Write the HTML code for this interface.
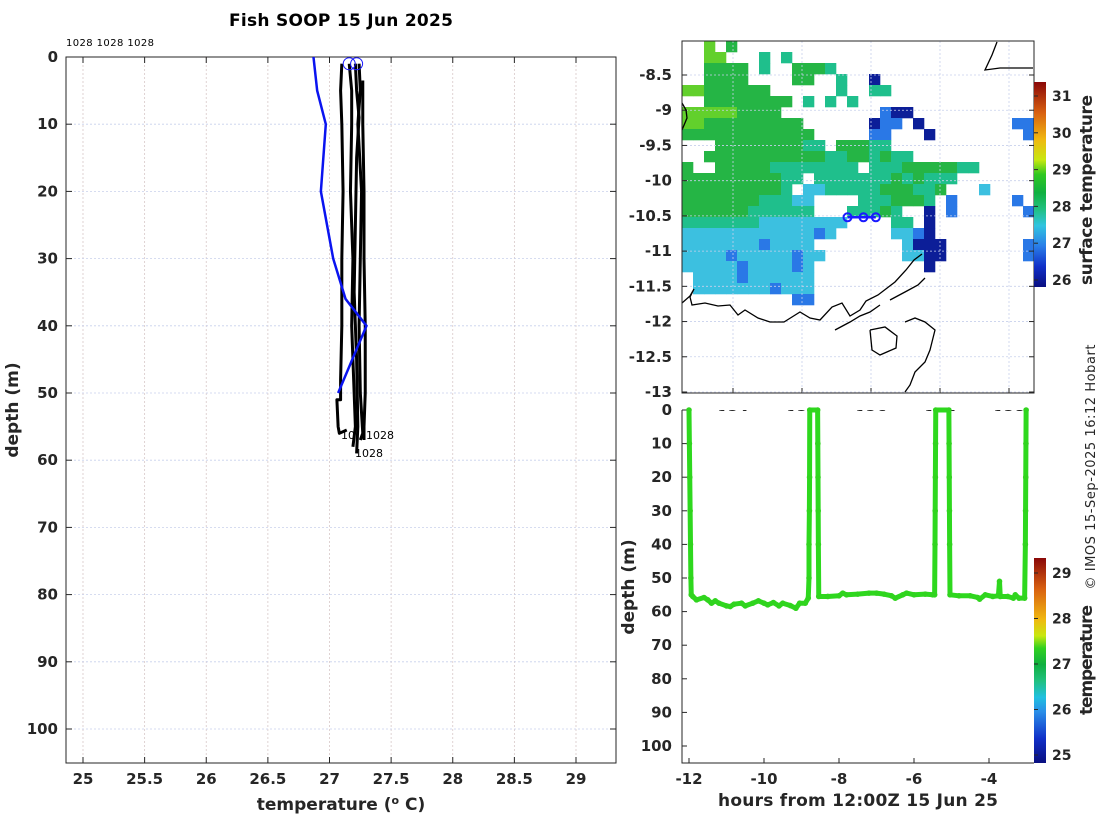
<!DOCTYPE html>
<html><head><meta charset="utf-8">
<style>
html,body{margin:0;padding:0;background:#fff;}
svg{display:block;font-family:"DejaVu Sans","Liberation Sans",sans-serif;}
.tk{font-size:15px;font-weight:bold;fill:#262626;}
.lb{font-size:17px;font-weight:bold;fill:#262626;}
</style></head>
<body>
<svg id="fig" width="1100" height="820" viewBox="0 0 1100 820" xmlns="http://www.w3.org/2000/svg">
<defs>
<linearGradient id="cmapA" x1="0" y1="1" x2="0" y2="0">
<stop offset="0" stop-color="#0a0f80"/><stop offset="0.1" stop-color="#1030c8"/><stop offset="0.2" stop-color="#2a7ee8"/>
<stop offset="0.3" stop-color="#30c4e0"/><stop offset="0.38" stop-color="#20c080"/><stop offset="0.46" stop-color="#10b040"/>
<stop offset="0.55" stop-color="#30c820"/><stop offset="0.62" stop-color="#c8e810"/><stop offset="0.72" stop-color="#f0b810"/>
<stop offset="0.85" stop-color="#d86010"/><stop offset="1" stop-color="#8a0808"/></linearGradient>
<linearGradient id="cmapB" x1="0" y1="1" x2="0" y2="0">
<stop offset="0" stop-color="#0a0f80"/><stop offset="0.12" stop-color="#1030c8"/><stop offset="0.25" stop-color="#2a8ee8"/>
<stop offset="0.32" stop-color="#20c0e0"/><stop offset="0.4" stop-color="#20c080"/><stop offset="0.48" stop-color="#10b040"/>
<stop offset="0.56" stop-color="#30d020"/><stop offset="0.62" stop-color="#c8e810"/><stop offset="0.7" stop-color="#f0b810"/>
<stop offset="0.85" stop-color="#d86010"/><stop offset="1" stop-color="#8a0808"/></linearGradient>
</defs>
</svg>
<script>
// ---------- data ----------
const blueTemp  = [26.87, 26.90, 26.97, 26.93, 27.03, 27.13, 27.30, 27.07];
const blueDepth = [0, 5, 10, 20, 30, 36, 40, 50];
const profA_T = [27.10,27.09,27.10,27.11,27.10,27.10,27.09,27.09,27.06,27.07,27.08,27.14];
const profA_D = [1,5,10,20,30,40,48,51,51,55,56,55.5];
const profB_T = [27.16,27.18,27.18,27.17,27.19,27.18,27.20,27.21,27.19];
const profB_D = [1,5,10,20,30,40,50,55,58];
const profC_T = [27.21,27.22,27.24,27.22,27.21,27.20,27.22,27.23,27.22];
const profC_D = [1,5,9,15,25,35,45,55,59];
const profD_T = [27.24,27.25,27.23,27.26,27.25,27.24,27.25,27.27,27.25];
const profD_D = [1,5,10,20,30,40,50,56,57];
const profE_T = [27.27,27.27,27.28,27.28,27.29,27.29,27.28,27.28];
const profE_D = [3.5,10,20,30,40,50,55,57];
const xTicksL = [25,25.5,26,26.5,27,27.5,28,28.5,29];
const yTicksL = [0,10,20,30,40,50,60,70,80,90,100];

const latTicks = [-8.5,-9,-9.5,-10,-10.5,-11,-11.5,-12,-12.5,-13];
const lonTicks = [124,125,126,127,128];
const trackLon = [125.66,125.89,126.07];
const trackLat = [-10.52,-10.52,-10.52];
const sstRows = [
"..G.g...........................",
"..GG...t.t......................",
"..gggg.t..gggt..................",
"..gggg....gg..t..d..............",
"GGgggggg......t..tt.............",
"..gggggggg.t.t.t................",
"GGGGGgggg.........bdd...........",
"GGggggggggg......dbb.d........bb",
"gggggggggggg.....bb...d........b",
"...ggggggggtt.gggtt.............",
"..gggggggggggttggtgtt...........",
"g..gggggtttttttt.tttgggggtt.....",
"gggggggggtt.tttttttgtgttt.......",
"gggggggggt.cctttttgggttg...c....",
"gggggggtttcc....tttgggt.b.....b.",
"ggggggtttttt...tttgt..d.b......b",
"tttttttcccccccc....tt.d.........",
"ccccccccccccbc.....ccbd.........",
"cccccccbcccc........cddd.......b",
"ccccbcccccbcc.......ccdd.......b",
"cccccbccccbc..........d.........",
".ccccbcccccc....................",
".cccccccbccc....................",
"..........bb...................."
];
const sstColors = {g:"#25b545",G:"#62d02c",t:"#1fbf8c",c:"#3cc0e0",b:"#2a78e6",d:"#0c1e98"};

const cbTicksA = [26,27,28,29,30,31];
const cbTicksB = [25,26,27,28,29];
const xTicksB = [-12,-10,-8,-6,-4];
const yTicksB = [0,10,20,30,40,50,60,70,80,90,100];
const hrs = [-12.0,-11.99,-11.98,-11.97,-11.96,-11.95,-11.94,-11.9,-11.8,-11.6,-11.5,-11.4,-11.3,-11.2,-11.0,-10.9,-10.8,-10.6,-10.5,-10.3,-10.15,-10.0,-9.9,-9.75,-9.6,-9.5,-9.3,-9.15,-9.05,-8.9,-8.82,-8.8,-8.8,-8.79,-8.785,-8.78,
 -8.57,-8.565,-8.56,-8.555,-8.55,-8.54,-8.3,-8.0,-7.9,-7.8,-7.5,-7.2,-7.0,-6.8,-6.6,-6.5,-6.3,-6.2,-6.0,-5.7,-5.5,-5.45,-5.44,-5.435,-5.43,-5.425,-5.42,
 -5.07,-5.065,-5.06,-5.055,-5.05,-5.04,-4.8,-4.5,-4.3,-4.25,-4.1,-3.9,-3.75,-3.72,-3.70,-3.5,-3.35,-3.3,-3.2,-3.05,-3.03,-3.025,-3.02,-3.015,-3.01];
const dep = [0,10,20,30,40,50,55,55.5,56.5,55.8,56.5,57.5,56.8,57.5,58.3,58.5,57.8,57.5,58.3,57.5,56.8,57.5,58,57.3,58.3,57.5,58.2,59,57.5,57.5,56,50,40,30,20,0,
 0,10,20,30,40,55.5,55.5,55.3,54.5,55,54.8,54.5,54.5,54.8,55.3,56,55,54.5,55,54.8,55,55,40,30,20,10,0,
 0,10,20,30,40,55,55.3,55.3,55.8,56.3,55,55.5,55.3,51,55.5,55.5,56,55,56,56,40,30,20,10,0];

// ---------- helpers ----------
const svg = document.getElementById('fig');
const NS = "http://www.w3.org/2000/svg";
function mk(tag, attrs, parent){const e=document.createElementNS(NS,tag);for(const k in attrs)e.setAttribute(k,attrs[k]);(parent||svg).appendChild(e);return e;}
function txt(s, attrs, parent){const e=mk('text',attrs,parent);e.textContent=s;return e;}
function lin(d0,d1,r0,r1){return v=>r0+(v-d0)*(r1-r0)/(d1-d0);}

// ---------- left profile panel ----------
const L={x0:66,x1:616,y0:57,y1:763};
const lx=lin(25,29,83,576), ly=lin(0,100,57,729);
const gL=mk('g',{});


xTicksL.forEach(v=>{const x=lx(v);
 mk('line',{x1:x,y1:L.y0,x2:x,y2:L.y1,stroke:'#d8c8c8','stroke-dasharray':'2,2','stroke-width':0.8},gL);
 mk('line',{x1:x,y1:L.y1,x2:x,y2:L.y1-6,stroke:'#262626'},gL);
 mk('line',{x1:x,y1:L.y0,x2:x,y2:L.y0+6,stroke:'#262626'},gL);
 const t=txt(String(v),{x:x,y:784,'text-anchor':'middle',class:'tk'},gL);
 });
yTicksL.forEach(v=>{const y=ly(v);
 mk('line',{x1:L.x0,y1:y,x2:L.x1,y2:y,stroke:'#c8d0ec','stroke-dasharray':'2,2','stroke-width':0.8},gL);
 mk('line',{x1:L.x0,y1:y,x2:L.x0+6,y2:y,stroke:'#262626'},gL);
 mk('line',{x1:L.x1,y1:y,x2:L.x1-6,y2:y,stroke:'#262626'},gL);
 const t=txt(String(v),{x:58,y:y+5,'text-anchor':'end',class:'tk'},gL);
 });
mk('rect',{x:L.x0,y:L.y0,width:L.x1-L.x0,height:L.y1-L.y0,fill:'none',stroke:'#262626','stroke-width':1},gL);
[[profA_T,profA_D],[profB_T,profB_D],[profC_T,profC_D],[profD_T,profD_D],[profE_T,profE_D]].forEach(p=>{
 const pl=mk('polyline',{points:p[0].map((t,i)=>lx(t)+','+ly(p[1][i])).join(' '),fill:'none',stroke:'#000','stroke-width':3,'stroke-linejoin':'round'},gL);
 });
const bl=mk('polyline',{points:blueTemp.map((t,i)=>lx(t)+','+ly(blueDepth[i])).join(' '),fill:'none',stroke:'#0a14f0','stroke-width':2.5},gL);

[27.16,27.22].forEach(t=>{const c=mk('circle',{cx:lx(t),cy:ly(1),r:6,fill:'none',stroke:'#1a1aff','stroke-width':1},gL);
 });
txt('1028',{x:366,y:439,'font-size':11,fill:'#000'},gL);
txt('10',{x:341,y:439,'font-size':11,fill:'#000'},gL);
txt('1028',{x:355,y:457,'font-size':11,fill:'#000'},gL);
const ann=txt('1028 1028 1028',{x:66,y:46,'font-size':10,fill:'#000',textLength:88},gL);

const ttl=txt('Fish SOOP 15 Jun 2025',{x:341,y:26,'text-anchor':'middle','font-size':17,'font-weight':'bold',fill:'#000',textLength:224});

const xl=mk('text',{x:341,y:810,'text-anchor':'middle',class:'lb'});
xl.innerHTML='temperature (<tspan dy="-6" font-size="11">o</tspan><tspan dy="6"> C)</tspan>';

const yl=txt('depth (m)',{x:0,y:0,'text-anchor':'middle',class:'lb',transform:'translate(18,410) rotate(-90)'});


// ---------- map panel ----------
const M={x0:682,x1:1034,y0:41,y1:393};
const mx=lin(124,128,733,1009), my=lin(-8.5,-13,75,392);
const gM=mk('g',{});


lonTicks.forEach(v=>{const t=txt(String(v),{x:mx(v),y:421,'text-anchor':'middle',class:'tk'},gM);
 });
const cw=11;
sstRows.forEach((row,r)=>{for(let c=0;c<row.length;c++){const ch=row[c];if(ch==='.')continue;
 const cell=mk('rect',{x:M.x0+c*cw,y:M.y0+r*cw,width:cw+0.3,height:cw+0.3,fill:sstColors[ch]},gM);
 }});
lonTicks.forEach(v=>{const x=mx(v);
 mk('line',{x1:x,y1:M.y0,x2:x,y2:M.y1,stroke:'#c8d0ec','stroke-dasharray':'2,2','stroke-width':0.8},gM);
 mk('line',{x1:x,y1:M.y1,x2:x,y2:M.y1-5,stroke:'#262626'},gM);});
latTicks.forEach(v=>{const y=my(v);
 mk('line',{x1:M.x0,y1:y,x2:M.x1,y2:y,stroke:'#c8d0ec','stroke-dasharray':'2,2','stroke-width':0.8},gM);
 mk('line',{x1:M.x0,y1:y,x2:M.x0+5,y2:y,stroke:'#262626'},gM);
 mk('line',{x1:M.x1,y1:y,x2:M.x1-5,y2:y,stroke:'#262626'},gM);
 const t=txt(String(v),{x:672,y:y+5,'text-anchor':'end',class:'tk'},gM);
 });
const coast=[
 "M997,42 L992,55 L985,70 L1000,68 L1033,68",
 "M682,103 L686,110 L687,118 L682,130",
 "M682,303 L690,296 L694,289 L690,297 L692,305 L705,303 L718,306 L730,305 L738,315 L745,310 L758,318 L770,322 L784,322 L792,317 L800,312 L810,318 L820,320 L832,307 L842,303 L850,316 L860,310 L866,301 L878,295 L895,282 L906,270 L914,260 L922,254",
 "M890,300 L905,292 L918,285 L925,278",
 "M870,330 L885,327 L897,336 L896,348 L880,355 L872,350 L870,330",
 "M905,322 L915,318 L925,322 L935,330 L932,342 L930,350 L925,362 L915,372 L910,385 L905,392",
 "M835,330 L850,322 L860,316 L870,312 L880,305"];
coast.forEach(d=>{const p=mk('path',{d:d,fill:'none',stroke:'#000','stroke-width':1.3},gM);
 });
mk('polyline',{points:trackLon.map((v,i)=>mx(v)+','+my(trackLat[i])).join(' '),fill:'none',stroke:'#1a1aff','stroke-width':2.5},gM);
trackLon.forEach((v,i)=>{const c=mk('circle',{cx:mx(v),cy:my(trackLat[i]),r:4,fill:'none',stroke:'#1a1aff','stroke-width':2},gM);
 });
mk('rect',{x:M.x0,y:M.y0,width:M.x1-M.x0,height:M.y1-M.y0,fill:'none',stroke:'#262626'},gM);
// colorbar A
const cyA=lin(26,31,280,96);
const cbA=mk('rect',{x:1034,y:82,width:12,height:205,fill:'url(#cmapA)'});

cbTicksA.forEach(v=>{const y=cyA(v);mk('line',{x1:1034,y1:y,x2:1038,y2:y,stroke:'#262626'});
 txt(String(v),{x:1052,y:y+5,'font-size':14,'font-weight':'bold',fill:'#262626'});});
const cbtA=txt('surface temperature',{x:0,y:0,'text-anchor':'middle',class:'lb',transform:'translate(1092,190) rotate(-90)',textLength:190});


// ---------- time-depth panel ----------
mk('rect',{x:620,y:411,width:460,height:409,fill:'#fff'});
const B={x0:682,x1:1034,y0:410,y1:763};
const bx=lin(-12,-4,689,989), by=lin(0,100,410,746);
const gB=mk('g',{});


xTicksB.forEach(v=>{const x=bx(v);
 mk('line',{x1:x,y1:B.y1,x2:x,y2:B.y1-5,stroke:'#262626'},gB);
 const t=txt(String(v),{x:x,y:784,'text-anchor':'middle',class:'tk'},gB);
 });
yTicksB.forEach(v=>{const y=by(v);
 mk('line',{x1:B.x0,y1:y,x2:B.x0+5,y2:y,stroke:'#262626'},gB);
 const t=txt(String(v),{x:672,y:y+5,'text-anchor':'end',class:'tk'},gB);
 });
mk('polyline',{points:B.x0+','+B.y0+' '+B.x0+','+B.y1+' '+B.x1+','+B.y1,fill:'none',stroke:'#262626'},gB);
const tr=mk('polyline',{points:hrs.map((h,i)=>bx(h)+','+by(dep[i])).join(' '),fill:'none',stroke:'#2ed81e','stroke-width':5,'stroke-linejoin':'round'},gB);

hrs.forEach((h,i)=>{const c=mk('circle',{cx:bx(h),cy:by(dep[i]),r:2.8,fill:'#30d41e'},gB);
 });
const xlb=txt('hours from 12:00Z 15 Jun 25',{x:858,y:806,'text-anchor':'middle',class:'lb',textLength:280});

const ylb=txt('depth (m)',{x:0,y:0,'text-anchor':'middle',class:'lb',transform:'translate(634,587) rotate(-90)'});

// colorbar B
const cyB=lin(25,29,755,573);
const cbB=mk('rect',{x:1034,y:558,width:12,height:205,fill:'url(#cmapB)'});

cbTicksB.forEach(v=>{const y=cyB(v);mk('line',{x1:1034,y1:y,x2:1038,y2:y,stroke:'#262626'});
 txt(String(v),{x:1052,y:y+5,'font-size':14,'font-weight':'bold',fill:'#262626'});});
const cbtB=txt('temperature',{x:0,y:0,'text-anchor':'middle',class:'lb',transform:'translate(1092,660) rotate(-90)',textLength:110});

const cp=txt('\u00A9 IMOS 15-Sep-2025 16:12 Hobart',{x:0,y:0,'text-anchor':'middle','font-size':13,fill:'#262626',transform:'translate(1095,467) rotate(-90)',textLength:245});

</script>
</body></html>
